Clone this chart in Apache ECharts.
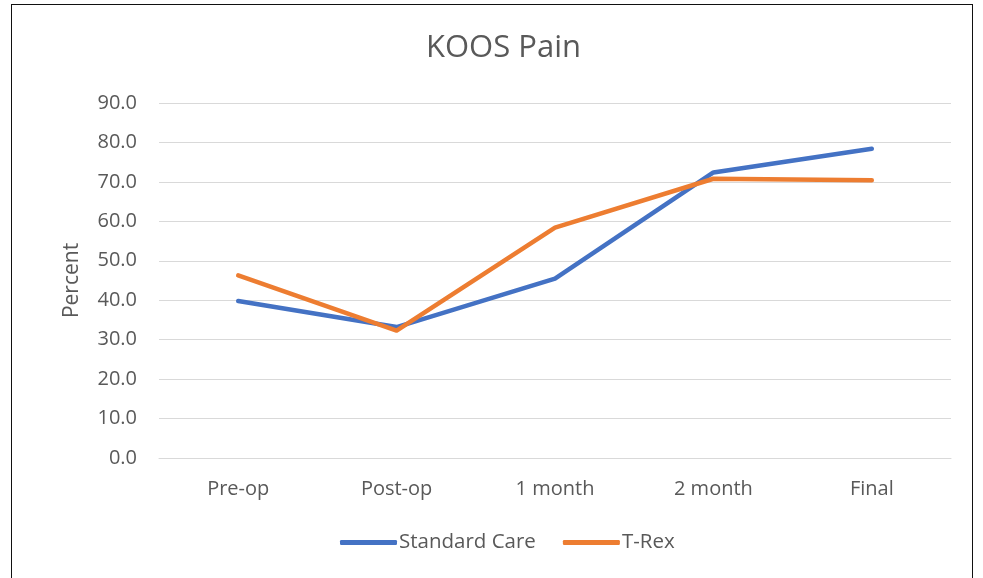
<!DOCTYPE html>
<html>
<head>
<meta charset="utf-8">
<script src="https://cdn.jsdelivr.net/npm/echarts@6/dist/echarts.min.js"></script>
<style>
  html, body { margin: 0; padding: 0; background: #fff; }
  #frame { position: absolute; left: 11px; top: 4px; width: 962px; height: 590px; border: 1.5px solid #111; box-sizing: border-box; }
  #chart { position: absolute; left: 0; top: 0; width: 983px; height: 578px; }
</style>
</head>
<body>
<div id="frame"></div>
<div id="chart"></div>
<script>
var categories = ['Pre-op', 'Post-op', '1 month', '2 month', 'Final']
var standardCare = [39.8, 33.2, 45.5, 72.4, 78.4]
var tRex = [46.3, 32.3, 58.4, 70.8, 70.4]

var textColor = '#595959'
var fontFamily = 'Open Sans, Liberation Sans, sans-serif'

var myChart = echarts.init(document.getElementById('chart'))
myChart.setOption({
    animation: false,
    title: {
        text: 'KOOS Pain',
        left: 421,
        top: 28,
        textStyle: { fontSize: 31, fontWeight: 'normal', color: textColor, fontFamily: fontFamily }
    },
    legend: {
        data: ['Standard Care', 'T-Rex'],
        left: 335,
        bottom: 20,
        itemWidth: 57,
        itemHeight: 5,
        itemGap: 27,
        icon: 'roundRect',
        textStyle: { fontSize: 20.5, color: textColor, fontFamily: fontFamily, padding: [0, 0, 0, -3] }
    },
    grid: {
        left: 159,
        right: 32,
        top: 103,
        bottom: 120,
        containLabel: false
    },
    xAxis: {
        type: 'category',
        data: categories,
        boundaryGap: true,
        axisLine: { lineStyle: { color: '#d9d9d9', width: 1 } },
        axisTick: { show: false },
        axisLabel: { color: textColor, fontSize: 20, margin: 21, fontFamily: fontFamily }
    },
    yAxis: {
        type: 'value',
        name: 'Percent',
        nameLocation: 'middle',
        nameGap: 76,
        nameRotate: 90,
        nameTextStyle: { color: textColor, fontSize: 21, fontFamily: fontFamily },
        min: 0,
        max: 90,
        interval: 10,
        axisLine: { show: false },
        axisTick: { show: false },
        splitLine: { lineStyle: { color: '#d9d9d9', width: 1 } },
        axisLabel: {
            color: textColor, fontSize: 20, margin: 22, fontFamily: fontFamily,
            formatter: function(v) { return v.toFixed(1) }
        }
    },
    series: [
        {
            name: 'Standard Care',
            type: 'line',
            data: standardCare,
            color: '#4472c4',
            symbol: 'none',
            lineStyle: { width: 4.5, cap: 'round', join: 'round' },
            z: 2
        },
        {
            name: 'T-Rex',
            type: 'line',
            data: tRex,
            color: '#ed7d31',
            symbol: 'none',
            lineStyle: { width: 4.5, cap: 'round', join: 'round' },
            z: 3
        }
    ]
})
</script>
</body>
</html>
